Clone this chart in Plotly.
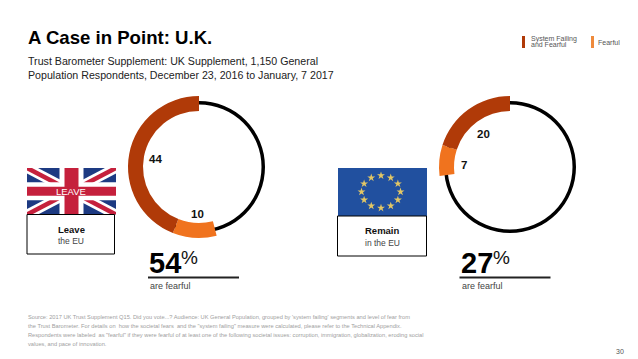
import math
import plotly.graph_objects as go

W, H = 638, 359
FONT = "Liberation Sans"
BROWN, ORANGE = "#b03a08", "#f0731e"

title = "A Case in Point: U.K."
subtitle = ["Trust Barometer Supplement: UK Supplement, 1,150 General",
            "Population Respondents, December 23, 2016 to January, 7 2017"]
footnote = [
    "Source: 2017 UK Trust Supplement Q15. Did you vote...? Audience: UK General Population, grouped by 'system failing' segments and level of fear from",
    "the Trust Barometer. For details on  how the societal fears  and the \"system failing\" measure were calculated, please refer to the Technical Appendix.",
    "Respondents were labeled  as \"fearful\" if they were fearful of at least one of the following societal issues: corruption, immigration, globalization, eroding social",
    "values, and pace of innovation.",
]
groups = ["Leave", "Remain"]
group_sub = ["the EU", "in the EU"]
system_failing_fearful = [44, 20]
fearful = [10, 7]
totals = [54, 27]
legend_names = ["System Failing", "and Fearful", "Fearful"]
page = "30"

centers = [(199, 167), (510, 167)]
R_OUT, R_IN, RING_OUT, RING_IN = 71, 56, 66, 62.5


def domain(cx, cy, r):
    return dict(x=[(cx - r) / W, (cx + r) / W], y=[1 - (cy + r) / H, 1 - (cy - r) / H])


fig = go.Figure()
fig.add_trace(go.Scatter(x=[0, W], y=[0, H], mode="markers", marker=dict(opacity=0), hoverinfo="skip"))

for i, (cx, cy) in enumerate(centers):
    fig.add_trace(go.Pie(values=[100], domain=domain(cx, cy, RING_OUT), hole=RING_IN / RING_OUT,
                         marker=dict(colors=["#000000"], line=dict(width=0)),
                         textinfo="none", hoverinfo="skip", sort=False, showlegend=False))
    a, b = system_failing_fearful[i], fearful[i]
    fig.add_trace(go.Pie(values=[100 - a - b, b, a], domain=domain(cx, cy, R_OUT), hole=R_IN / R_OUT,
                         marker=dict(colors=["rgba(0,0,0,0)", ORANGE, BROWN], line=dict(width=0)),
                         textinfo="none", hoverinfo="skip", sort=False, direction="clockwise",
                         rotation=0, showlegend=False))

shapes, ann = [], []


def rect(x0, y0, x1, y1, fill, line=None, lw=0, layer="above"):
    shapes.append(dict(type="rect", xref="x", yref="y", x0=x0, y0=y0, x1=x1, y1=y1, fillcolor=fill,
                       layer=layer, line=dict(color=line or fill, width=lw)))


def poly(pts, fill):
    path = "M " + " L ".join(f"{x},{y}" for x, y in pts) + " Z"
    shapes.append(dict(type="path", xref="x", yref="y", path=path, fillcolor=fill, line=dict(width=0)))


def text(x, y, s, size, color="#000", bold=False, anchor="left"):
    ann.append(dict(xref="x", yref="y", x=x, y=y, text=f"<b>{s}</b>" if bold else s, showarrow=False,
                    xanchor=anchor, yanchor="middle", align="left", borderpad=0,
                    font=dict(family=FONT, size=size, color=color)))


# Union flag
fx0, fy0, fx1, fy1 = 27, 168, 116, 214.5
fmx, fmy = (fx0 + fx1) / 2, (fy0 + fy1) / 2
rect(fx0, fy0, fx1, fy1, "#1d3a82")
for dx, dy, col in [(11, 5.5, "#ffffff"), (5, 2.5, "#c5203c")]:
    poly([(fx0, fy0), (fx0 + dx, fy0), (fx1, fy1 - dy), (fx1, fy1), (fx1 - dx, fy1), (fx0, fy0 + dy)], col)
    poly([(fx1, fy0), (fx1 - dx, fy0), (fx0, fy1 - dy), (fx0, fy1), (fx0 + dx, fy1), (fx1, fy0 + dy)], col)
rect(fmx - 12, fy0, fmx + 12, fy1, "#ffffff")
rect(fx0, fmy - 9, fx1, fmy + 9, "#ffffff")
rect(fmx - 7, fy0, fmx + 7, fy1, "#c5203c")
rect(fx0, fmy - 4.5, fx1, fmy + 4.5, "#c5203c")
text(fmx - 0.5, fmy + 0.5, "LEAVE", 9.5, "#ffffff", anchor="center")

# EU flag
rect(338, 168, 427, 216, "#21509f", layer="below")
star_x, star_y = [], []
for k in range(12):
    ang = math.radians(30 * k)
    star_x.append(381 + 19.5 * math.sin(ang))
    star_y.append(191.8 - 16.2 * math.cos(ang))
fig.add_trace(go.Scatter(x=star_x, y=star_y, mode="markers", hoverinfo="skip",
                         marker=dict(symbol="star", size=6, color="#e3c765", line=dict(width=0))))

# caption boxes
rect(27, 214.5, 114.5, 254, "#ffffff", "#000000", 1)
rect(337.5, 216, 426.5, 256, "#ffffff", "#000000", 1)
text(71, 229.5, groups[0], 9.5, "#111", True, "center")
text(71, 241, group_sub[0], 8.5, "#444", False, "center")
text(382, 230.5, groups[1], 9.5, "#111", True, "center")
text(382, 243, group_sub[1], 8.5, "#444", False, "center")

# value labels on the rings
text(155.5, 159, str(system_failing_fearful[0]), 11.5, "#111", True, "center")
text(197, 213.5, str(fearful[0]), 11.5, "#111", True, "center")
text(483, 133.5, str(system_failing_fearful[1]), 11.5, "#111", True, "center")
text(464, 164.5, str(fearful[1]), 11.5, "#111", True, "center")

# totals
for x0, t in zip((148, 459.5), totals):
    text(x0, 263, str(t), 29, "#000", True)
    text(x0 + 32, 257, "%", 19, "#111")
    shapes.append(dict(type="line", xref="x", yref="y", x0=x0, x1=x0 + 91, y0=277.5, y1=277.5,
                       line=dict(color="#222", width=2)))
    text(x0 + 1, 286, "are fearful", 9, "#444")

# heading block
text(27, 37, title, 18.6, "#000", True)
text(27, 60.5, subtitle[0], 10.65, "#222")
text(27, 74.5, subtitle[1], 10.65, "#222")

# legend
rect(522, 36, 525, 48, BROWN)
rect(591, 36, 594, 48, "#ee8a3c")
text(530, 38.5, legend_names[0], 7, "#555")
text(530, 44.5, legend_names[1], 7, "#555")
text(597, 42, legend_names[2], 7, "#555")

# footnote
for y, line in zip((316.5, 325.5, 334.5, 343.5), footnote):
    text(27, y, line, 5.7, "#a0a0a0")
text(620, 351, page, 7, "#555", False, "center")

fig.update_layout(width=W, height=H, margin=dict(l=0, r=0, t=0, b=0), paper_bgcolor="#ffffff",
                  plot_bgcolor="#ffffff", showlegend=False, shapes=shapes, annotations=ann,
                  xaxis=dict(range=[0, W], visible=False, fixedrange=True, domain=[0, 1]),
                  yaxis=dict(range=[H, 0], visible=False, fixedrange=True, domain=[0, 1]))
fig.write_html("out.html", config=dict(displayModeBar=False),
               post_script="document.body.style.margin='0';document.documentElement.style.overflow='hidden';")
